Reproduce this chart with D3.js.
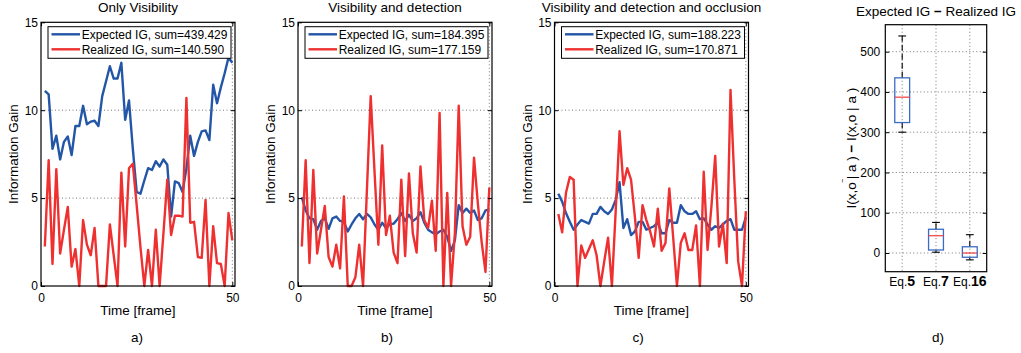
<!DOCTYPE html>
<html>
<head>
<meta charset="utf-8">
<script src="https://cdn.jsdelivr.net/npm/d3@7"></script>
<style>
  body { margin: 0; background: #fff; }
  svg { font-family: "Liberation Sans", Arial, sans-serif; }
</style>
</head>
<body>
<svg id="chart" width="1021" height="353"></svg>
<script>
// ---- data ----
const titles = ["Only Visibility", "Visibility and detection", "Visibility and detection and occlusion"];
const panelTags = ["a)", "b)", "c)", "d)"];
const expectedSums = ["439.429", "184.395", "188.223"];
const realizedSums = ["140.590", "177.159", "170.871"];

const expectedA = [11.1, 10.9, 7.8, 8.55, 7.2, 8.2, 8.5, 7.45, 9.1, 9.1, 10.25, 9.2, 9.35, 9.4, 9.1, 10.8, 11.65, 12.5, 11.8, 11.8,
  12.7, 9.45, 10.55, 7.8, 5.35, 5.25, 6.0, 6.7, 6.6, 7.1, 6.8, 7.2, 6.9, 3.95, 5.95, 5.85, 5.35, 6.7, 8.55, 7.4,
  8.2, 8.8, 8.85, 8.3, 11.45, 10.4, 11.3, 12.1, 13.0, 12.7];
const realizedA = [2.25, 7.15, 1.25, 6.65, 1.85, 3.2, 4.5, 1.1, 2.1, 0, 3.75, 2.35, 1.75, 3.3, 0, 0, 0, 3.5, 1.75, 0,
  6.45, 2.25, 6.7, 6.95, 4.6, 2.2, 0, 2.05, 0, 3.2, 0, 3.0, 6.05, 2.9, 4.0, 4.0, 3.95, 10.7, 3.6, 3.65,
  1.65, 1.6, 4.9, 0, 3.4, 1.3, 1.25, 0, 4.15, 2.6];

const expectedB = [5.05, 4.3, 3.85, 3.8, 3.2, 3.7, 3.85, 3.25, 3.85, 3.95, 3.7, 3.65, 3.1, 3.5, 3.85, 4.1, 3.8, 4.1, 3.9, 3.5,
  3.2, 3.6, 3.3, 3.5, 3.55, 3.8, 4.15, 3.7, 4.05, 3.7, 3.85, 4.2, 3.6, 3.2, 3.05, 2.95, 3.1, 3.2, 2.8, 2.0,
  2.6, 4.6, 4.15, 4.4, 4.15, 4.3, 3.75, 3.85, 4.3, 4.35];
const realizedB = [2.25, 7.15, 1.3, 6.6, 1.85, 3.2, 4.55, 1.65, 1.1, 2.35, 1.0, 5.1, 0, 0, 0.5, 2.35, 0, 5.4, 10.8, 6.5,
  2.35, 8.0, 2.9, 4.0, 1.9, 1.3, 6.05, 1.7, 6.4, 3.0, 1.9, 6.8, 3.75, 3.3, 4.85, 2.0, 9.85, 0, 5.3, 0,
  3.0, 10.25, 3.4, 2.35, 2.8, 7.3, 4.7, 2.5, 0.8, 5.6];

const expectedC = [5.25, 4.8, 4.15, 3.65, 3.2, 3.5, 3.75, 3.65, 3.55, 4.1, 4.1, 4.5, 4.25, 4.1, 4.35, 4.9, 5.9, 3.3, 3.8, 2.9,
  3.1, 3.65, 3.65, 3.2, 3.3, 3.4, 3.6, 3.0, 3.0, 3.75, 3.6, 3.6, 4.6, 4.25, 4.1, 4.1, 4.25, 3.8, 3.85, 3.5,
  3.2, 3.4, 3.3, 3.5, 3.7, 3.8, 3.2, 3.2, 3.2, 3.9];
const realizedC = [4.1, 3.05, 5.3, 6.2, 6.05, 0, 2.3, 1.6, 2.1, 2.6, 1.75, 0, 1.4, 2.75, 0, 4.3, 8.8, 5.75, 6.7, 6.05,
  3.95, 1.6, 4.6, 3.75, 3.1, 2.25, 4.4, 2.0, 2.45, 5.55, 2.8, 0, 2.45, 3.0, 2.05, 2.05, 3.45, 0, 6.5, 2.05,
  4.5, 7.4, 2.25, 3.55, 1.3, 11.15, 6.0, 1.4, 0, 4.25];

const yTicks = [0, 5, 10, 15];
const xTicks = [0, 50];

// box plot: Expected IG - Realized IG
const boxEqs = ["5", "7", "16"];
const boxLowWhisker = [300, 2, -17];
const boxQ1 = [324, 7.5, -10.5];
const boxMedian = [387, 43, 0];
const boxQ3 = [435, 59, 15.5];
const boxHighWhisker = [539, 76, 45.5];
const boxTicks = [0, 100, 200, 300, 400, 500];

// ---- drawing ----
const svg = d3.select("#chart");
const blue = "#2456a8", red = "#ef3030", grid = "#777";
const plotTop = 22.3, plotBottom = 286, plotW = 194;
const lefts = [41, 298, 554.5];
const series = [[expectedA, realizedA], [expectedB, realizedB], [expectedC, realizedC]];

lefts.forEach((x0, p) => {
  const x = d3.scaleLinear().domain([0, 50.7]).range([x0, x0 + plotW]);
  const y = d3.scaleLinear().domain([0, 15]).range([plotBottom, plotTop]);
  const g = svg.append("g");

  // grid
  g.selectAll(".hg").data(yTicks.filter(t => t > 0 && t < 15)).enter().append("line")
    .attr("x1", x0).attr("x2", x0 + plotW).attr("y1", d => y(d)).attr("y2", d => y(d))
    .attr("stroke", grid).attr("stroke-width", 1).attr("stroke-dasharray", "1,2.5");
  g.selectAll(".vg").data(xTicks.filter(t => t > 0)).enter().append("line")
    .attr("x1", d => x(d)).attr("x2", d => x(d)).attr("y1", plotTop).attr("y2", plotBottom)
    .attr("stroke", grid).attr("stroke-width", 1).attr("stroke-dasharray", "1,2.5");

  const line = d3.line().x((d, i) => x(i + 1)).y(d => y(d));
  const [exp, real] = series[p];
  g.append("path").attr("d", line(exp)).attr("fill", "none").attr("stroke", blue)
    .attr("stroke-width", 2.4).attr("stroke-linejoin", "round");
  g.append("path").attr("d", line(real)).attr("fill", "none").attr("stroke", red)
    .attr("stroke-width", 2.4).attr("stroke-linejoin", "round");

  // axes with inward ticks
  g.append("g").attr("transform", `translate(${x0},0)`)
    .call(d3.axisLeft(y).tickValues(yTicks).tickSize(-4).tickPadding(3));
  g.append("g").attr("transform", `translate(${x0 + plotW},0)`)
    .call(d3.axisRight(y).tickValues(yTicks).tickSize(-4).tickFormat(""));
  g.append("g").attr("transform", `translate(0,${plotBottom})`)
    .call(d3.axisBottom(x).tickValues(xTicks).tickSize(-4).tickPadding(7));
  g.append("g").attr("transform", `translate(0,${plotTop})`)
    .call(d3.axisTop(x).tickValues(xTicks).tickSize(-4).tickFormat(""));
  g.selectAll(".domain").remove();
  g.selectAll(".tick line").attr("stroke", "#000");
  g.selectAll(".tick text").attr("font-size", "12px").attr("fill", "#000")
    .attr("font-family", "Liberation Sans, Arial, sans-serif");

  g.append("rect").attr("x", x0).attr("y", plotTop).attr("width", plotW).attr("height", plotBottom - plotTop)
    .attr("fill", "none").attr("stroke", "#000").attr("stroke-width", 1.2);

  // legend
  const lg = g.append("g").attr("transform", `translate(${x0 + 7},26.7)`);
  lg.append("rect").attr("width", 183).attr("height", 31.6).attr("fill", "#fff")
    .attr("stroke", "#000").attr("stroke-width", 1);
  [["Expected IG, sum=" + expectedSums[p], blue], ["Realized IG, sum=" + realizedSums[p], red]].forEach(([t, c], k) => {
    const yy = 7.6 + k * 15;
    lg.append("line").attr("x1", 3.5).attr("x2", 32).attr("y1", yy).attr("y2", yy)
      .attr("stroke", c).attr("stroke-width", 2.4);
    lg.append("text").attr("x", 33.7).attr("y", yy + 4.3).attr("font-size", "12px").text(t);
  });

  // labels
  svg.append("text").attr("x", x0 + plotW / 2).attr("y", 12).attr("text-anchor", "middle")
    .attr("font-size", "13.5px").text(titles[p]);
  svg.append("text").attr("x", x0 + plotW / 2).attr("y", 315).attr("text-anchor", "middle")
    .attr("font-size", "13.5px").text("Time [frame]");
  svg.append("text").attr("transform", `translate(${x0 - 23},${(plotTop + plotBottom) / 2}) rotate(-90)`)
    .attr("text-anchor", "middle").attr("font-size", "13.5px").text("Information Gain");
});

// panel tags
[137, 387, 638, 938].forEach((cx, k) => {
  svg.append("text").attr("x", cx).attr("y", 342).attr("text-anchor", "middle")
    .attr("font-size", "13.5px").text(panelTags[k]);
});

// ---- box plot panel ----
{
  const bx = d3.scaleLinear().domain([0.5, 3.5]).range([885.3, 986.7]);
  const by = d3.scaleLinear().domain([-46.4, 567]).range([271.7, 24.7]);
  const g = svg.append("g");
  const dx0 = 885.3, dx1 = 986.7, dy0 = 24.7, dy1 = 271.7;

  g.selectAll(".hg").data(boxTicks).enter().append("line")
    .attr("x1", dx0).attr("x2", dx1).attr("y1", d => by(d)).attr("y2", d => by(d))
    .attr("stroke", grid).attr("stroke-dasharray", "1,2.5");
  g.selectAll(".vg").data(boxEqs).enter().append("line")
    .attr("x1", (d, i) => bx(i + 1)).attr("x2", (d, i) => bx(i + 1)).attr("y1", dy0).attr("y2", dy1)
    .attr("stroke", grid).attr("stroke-dasharray", "1,2.5");

  const half = 0.22, cap = 0.115;
  boxEqs.forEach((eq, i) => {
    const cx = i + 1;
    // whiskers
    [[boxQ3[i], boxHighWhisker[i]], [boxQ1[i], boxLowWhisker[i]]].forEach(([a, b]) => {
      g.append("line").attr("x1", bx(cx)).attr("x2", bx(cx)).attr("y1", by(a)).attr("y2", by(b))
        .attr("stroke", "#000").attr("stroke-width", 1.1).attr("stroke-dasharray", "6,3");
      g.append("line").attr("x1", bx(cx - cap)).attr("x2", bx(cx + cap)).attr("y1", by(b)).attr("y2", by(b))
        .attr("stroke", "#000").attr("stroke-width", 1.1);
    });
    g.append("rect").attr("x", bx(cx - half)).attr("y", by(boxQ3[i]))
      .attr("width", bx(cx + half) - bx(cx - half)).attr("height", by(boxQ1[i]) - by(boxQ3[i]))
      .attr("fill", "none").attr("stroke", "#3b6cc4").attr("stroke-width", 1.3);
    g.append("line").attr("x1", bx(cx - half)).attr("x2", bx(cx + half))
      .attr("y1", by(boxMedian[i])).attr("y2", by(boxMedian[i]))
      .attr("stroke", "#f24a4a").attr("stroke-width", 1.3);
    const t = g.append("text").attr("x", bx(cx)).attr("y", 286).attr("text-anchor", "middle").attr("font-size", "12px");
    t.append("tspan").text("Eq.");
    t.append("tspan").attr("font-weight", "bold").attr("font-size", "14px").text(eq);
  });

  g.append("g").attr("transform", `translate(${dx0},0)`)
    .call(d3.axisLeft(by).tickValues(boxTicks).tickSize(-4).tickPadding(5));
  g.append("g").attr("transform", `translate(${dx1},0)`)
    .call(d3.axisRight(by).tickValues(boxTicks).tickSize(-4).tickFormat(""));
  g.selectAll(".domain").remove();
  g.selectAll(".tick line").attr("stroke", "#000");
  g.selectAll(".tick text").attr("font-size", "12px").attr("fill", "#000")
    .attr("font-family", "Liberation Sans, Arial, sans-serif");
  g.append("rect").attr("x", dx0).attr("y", dy0).attr("width", dx1 - dx0).attr("height", dy1 - dy0)
    .attr("fill", "none").attr("stroke", "#000").attr("stroke-width", 1.2);

  const title = svg.append("text").attr("x", (dx0 + dx1) / 2).attr("y", 16).attr("text-anchor", "middle")
    .attr("font-size", "13.5px");
  title.append("tspan").text("Expected IG ");
  title.append("tspan").attr("font-weight", "bold").text("−");
  title.append("tspan").text(" Realized IG");

  const yl = svg.append("text").attr("transform", `translate(856,${(dy0 + dy1) / 2}) rotate(-90)`)
    .attr("text-anchor", "middle").attr("font-size", "13.5px");
  yl.append("tspan").text("I(x,o");
  yl.append("tspan").attr("dy", -6).attr("font-size", "9px").text("‾");
  yl.append("tspan").attr("dy", 6).text("| a ) ");
  yl.append("tspan").attr("font-weight", "bold").text("−");
  yl.append("tspan").text(" I(x,o | a )");
}
</script>
</body>
</html>
